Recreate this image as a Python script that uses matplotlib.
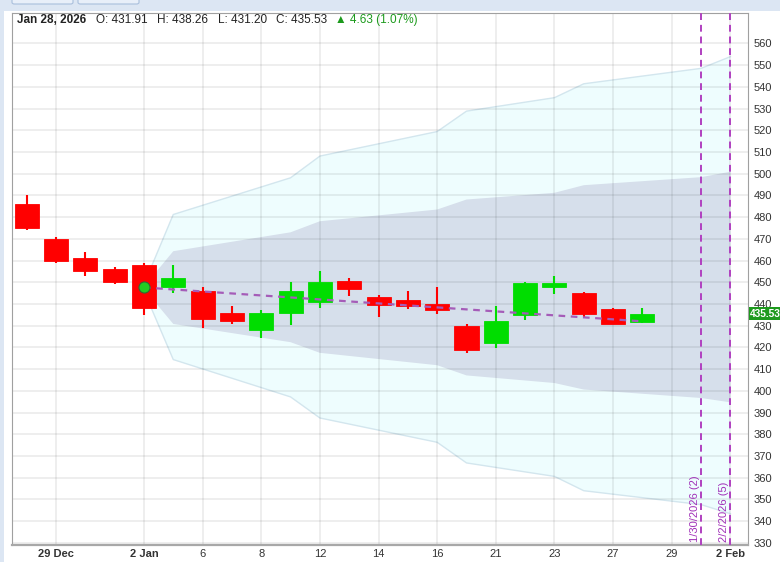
import matplotlib.pyplot as plt
from matplotlib.patches import Rectangle, FancyBboxPatch

plt.rcParams['font.family'] = ['Liberation Sans', 'DejaVu Sans']

# trading days shown on the axis (index = position)
days = ["Dec 26", "Dec 29", "Dec 30", "Dec 31", "Jan 2", "Jan 5", "Jan 6", "Jan 7",
        "Jan 8", "Jan 9", "Jan 12", "Jan 13", "Jan 14", "Jan 15", "Jan 16", "Jan 20",
        "Jan 21", "Jan 22", "Jan 23", "Jan 26", "Jan 27", "Jan 28", "Jan 29", "Jan 30",
        "Feb 2"]

# daily OHLC (Dec 26 .. Jan 28)
opens = [486, 470, 461, 456, 458, 448, 446, 436, 428, 436, 441, 450.5, 443, 442, 440,
         430, 422, 435, 448, 445, 437.7, 431.91]
highs = [490, 471, 464, 457, 459, 458, 448, 439, 437, 450, 455, 452, 444, 446, 448,
         431, 439, 450, 453, 445.6, 438, 438.26]
lows = [474, 459, 453, 449, 435, 445, 429, 431, 424.5, 430.5, 438, 443.5, 434, 437.5,
        435.5, 417.5, 419.5, 432.5, 444.5, 434, 430.6, 431.20]
closes = [475, 460, 455, 450, 438, 452, 433, 432, 436, 446, 450, 447, 439.5, 439, 437,
          419, 432, 449.7, 449.7, 435.5, 430.9, 435.53]

# projection bands (outer / inner), vertices at these day positions
band_idx = [4, 5, 9, 10, 14, 15, 18, 19, 23, 24]
outer_hi = [449.0, 481.2, 498.1, 508.1, 519.4, 528.8, 535.0, 541.4, 548.5, 553.9]
inner_hi = [448.0, 464.3, 473.0, 478.1, 483.5, 488.1, 491.2, 494.7, 498.4, 500.9]
inner_lo = [447.0, 430.8, 422.4, 417.5, 411.8, 407.1, 403.6, 400.6, 396.7, 394.7]
outer_lo = [446.0, 414.4, 397.2, 387.5, 376.3, 366.8, 360.6, 354.0, 347.6, 343.4]

# dashed trend line
trend_idx = [4, 21]
trend_val = [447.6, 432.0]

# vertical markers
marker_idx = [23, 24]
marker_labels = ["1/30/2026 (2)", "2/2/2026 (5)"]

tick_idx = [1, 4, 6, 8, 10, 12, 14, 16, 18, 20, 22, 24]
tick_labels = ["29 Dec", "2 Jan", "6", "8", "12", "14", "16", "21", "23", "27", "29", "2 Feb"]
bold_ticks = ["29 Dec", "2 Jan", "2 Feb"]
y_ticks = list(range(330, 561, 10))

W, H = 780, 562
fig = plt.figure(figsize=(W / 100, H / 100), dpi=100)
fig.patch.set_facecolor("white")

# top toolbar strip and left edge
fig.patches.append(Rectangle((0, 1 - 11 / H), 1, 11 / H, transform=fig.transFigure,
                             facecolor="#dce6f3", edgecolor="none", zorder=0))
fig.patches.append(Rectangle((0, 0), 4 / W, 1, transform=fig.transFigure,
                             facecolor="#dce6f3", edgecolor="none", zorder=0))
for bx0, bx1 in [(12, 73), (78, 139)]:
    fig.patches.append(FancyBboxPatch((bx0 / W, 1 - 4 / H), (bx1 - bx0) / W, 6 / H,
                                      boxstyle="round,pad=0,rounding_size=0.003",
                                      transform=fig.transFigure, facecolor="#e8eff9",
                                      edgecolor="#a9bfdc", lw=0.8, zorder=1))

ax = fig.add_axes([12 / W, 1 - 545 / H, 736 / W, 532 / H])
ax.set_xlim(-0.5, 24.6)
ax.set_ylim(329, 574)

# grid
for t in tick_idx:
    ax.axvline(t, color="black", alpha=0.08, lw=1.2, zorder=1.5)
for v in y_ticks:
    ax.axhline(v, color="black", alpha=0.08, lw=1.2, zorder=1.5)

# bands
ax.fill_between(band_idx, outer_lo, outer_hi, facecolor="#eefdfe", edgecolor="none", zorder=1)
ax.plot(band_idx, outer_hi, color="#d3e6ee", lw=1, zorder=1.1)
ax.plot(band_idx, outer_lo, color="#d3e6ee", lw=1, zorder=1.1)
ax.fill_between(band_idx, inner_lo, inner_hi, facecolor="#d6dfeb", edgecolor="none", zorder=1.2)

# candles
xs = list(range(len(opens)))
cols = ["#00dd00" if c >= o else "#ff0000" for o, c in zip(opens, closes)]
ax.vlines(xs, lows, highs, colors=cols, lw=1.5, zorder=3)
ax.bar(xs, [abs(c - o) for o, c in zip(opens, closes)],
       bottom=[min(o, c) for o, c in zip(opens, closes)],
       width=0.82, color=cols, edgecolor=cols, lw=0.6, zorder=3.5)

# trend line and anchor dot
ax.plot(trend_idx, trend_val, color="#a55cb8", lw=1.6, dashes=(3, 2.5), zorder=4)
ax.plot(trend_idx[0], trend_val[0], "o", ms=8, mfc="#22cc22", mec="#336633", mew=0.8, zorder=5)

# vertical markers
for mi, lab in zip(marker_idx, marker_labels):
    ax.axvline(mi, color="#b040c0", lw=1.4, dashes=(3.5, 2.5), zorder=4)
    ax.text(mi - 0.05, 330.3, lab, rotation=90, ha="right", va="bottom",
            color="#a030b8", fontsize=8, zorder=5)

# axes styling
for s in ["left", "right", "top"]:
    ax.spines[s].set_color("#a0a0a0")
    ax.spines[s].set_linewidth(0.8)
ax.spines["bottom"].set_color("#a8a8a8")
ax.spines["bottom"].set_linewidth(1.6)
ax.yaxis.tick_right()
ax.set_yticks(y_ticks)
ax.set_yticklabels([str(v) for v in y_ticks])
ax.tick_params(axis="y", length=0, pad=4, labelsize=8, labelcolor="#333333")
ax.set_xticks(tick_idx)
ax.set_xticklabels(tick_labels)
ax.tick_params(axis="x", length=0, pad=3, labelsize=8, labelcolor="#333333")
for lbl in ax.get_xticklabels():
    if lbl.get_text() in bold_ticks:
        lbl.set_fontweight("bold")

# last price box
ax.text(1.003, closes[-1], f"{closes[-1]:.2f}", transform=ax.get_yaxis_transform(),
        ha="left", va="center", color="white", fontsize=7.3, fontweight="bold",
        bbox=dict(boxstyle="square,pad=0.12", facecolor="#1e9a1e", edgecolor="none"),
        clip_on=False, zorder=6)

# header line
chg = closes[-1] - closes[-2]
hy = 1 - 20 / H
fig.text(17 / W, hy, "Jan 28, 2026", fontsize=8.5, fontweight="bold", color="#222222", va="center")
fig.text(96 / W, hy, f"O: {opens[-1]:.2f}", fontsize=8.5, color="#222222", va="center")
fig.text(157 / W, hy, f"H: {highs[-1]:.2f}", fontsize=8.5, color="#222222", va="center")
fig.text(218 / W, hy, f"L: {lows[-1]:.2f}", fontsize=8.5, color="#222222", va="center")
fig.text(276 / W, hy, f"C: {closes[-1]:.2f}", fontsize=8.5, color="#222222", va="center")
fig.text(335 / W, hy, f"\u25B2 {chg:.2f} ({chg / closes[-2] * 100:.2f}%)", fontsize=8.5,
         color="#1c9a1c", va="center")

fig.savefig("out.png", dpi=100)
